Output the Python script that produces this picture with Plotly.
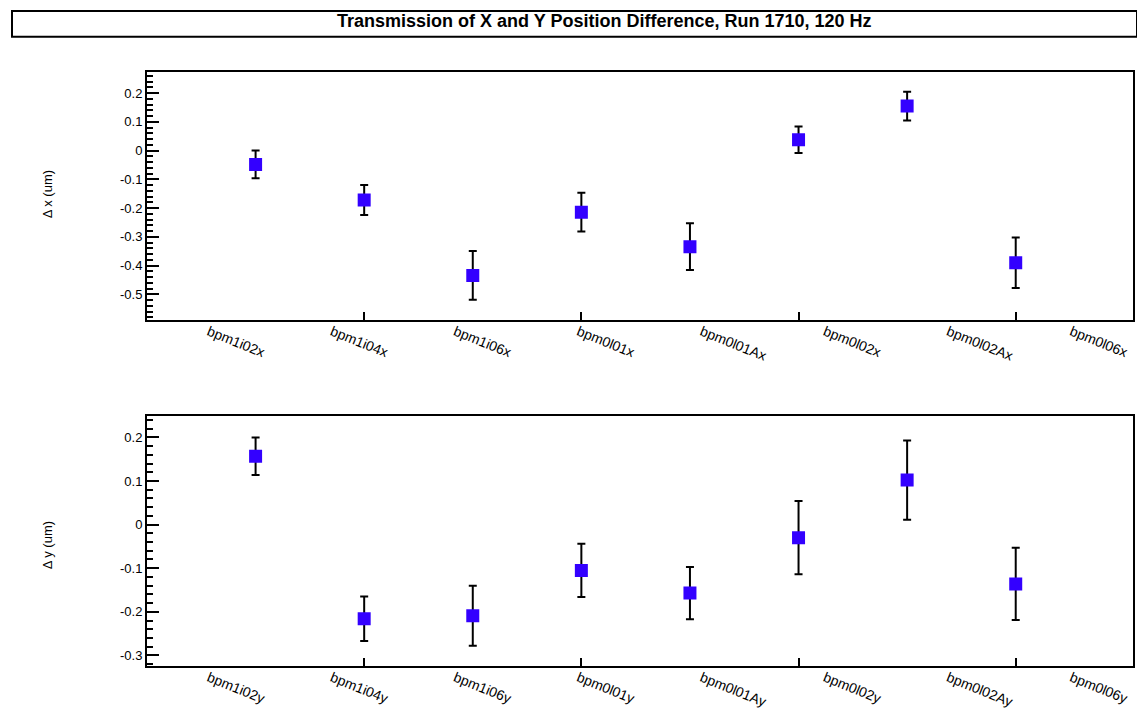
import plotly.graph_objects as go

# ---- data ----
x_labels = ["bpm1i02x", "bpm1i04x", "bpm1i06x", "bpm0l01x", "bpm0l01Ax", "bpm0l02x", "bpm0l02Ax", "bpm0l06x"]
y_labels = ["bpm1i02y", "bpm1i04y", "bpm1i06y", "bpm0l01y", "bpm0l01Ay", "bpm0l02y", "bpm0l02Ay", "bpm0l06y"]
point_index = [1, 2, 3, 4, 5, 6, 7, 8]
dx_values = [-0.048, -0.172, -0.434, -0.214, -0.334, 0.038, 0.155, -0.390]
dx_errors = [0.048, 0.052, 0.085, 0.067, 0.081, 0.046, 0.050, 0.088]
dy_values = [0.157, -0.216, -0.209, -0.105, -0.157, -0.030, 0.102, -0.136]
dy_errors = [0.043, 0.051, 0.069, 0.061, 0.060, 0.084, 0.091, 0.083]
label_pos = [0.5, 1.5, 2.5, 3.5, 4.5, 5.5, 6.5, 7.5]
top_ticks = [0.2, 0.1, 0, -0.1, -0.2, -0.3, -0.4, -0.5]
top_ticktext = ["0.2", "0.1", "0", "-0.1", "-0.2", "-0.3", "-0.4", "-0.5"]
bot_ticks = [0.2, 0.1, 0, -0.1, -0.2, -0.3]
bot_ticktext = ["0.2", "0.1", "0", "-0.1", "-0.2", "-0.3"]
title_text = "Transmission of X and Y Position Difference, Run 1710, 120 Hz"

W, H = 1137, 710
MARK = "#3300ff"
FONT = "Liberation Sans, Arial, sans-serif"

xdom = [147 / W, 1133 / W]
top_dom = [1 - 323 / H, 1 - 73 / H]
bot_dom = [1 - 672 / H, 1 - 420 / H]

fig = go.Figure()

def pts(xa, ya, vals, errs):
    return go.Scatter(
        x=point_index, y=vals, xaxis=xa, yaxis=ya, mode="markers",
        marker=dict(symbol="square", size=13, color=MARK, line=dict(width=0)),
        error_y=dict(type="data", array=errs, visible=True, color="black", thickness=2, width=4),
        showlegend=False, hoverinfo="skip",
    )

fig.add_trace(pts("x", "y", dx_values, dx_errors))
fig.add_trace(pts("x2", "y2", dy_values, dy_errors))
# invisible traces to keep label axes active
fig.add_trace(go.Scatter(x=[label_pos[0]], y=[0], xaxis="x3", yaxis="y", mode="markers",
                         marker=dict(opacity=0), showlegend=False, hoverinfo="skip"))
fig.add_trace(go.Scatter(x=[label_pos[0]], y=[0], xaxis="x4", yaxis="y2", mode="markers",
                         marker=dict(opacity=0), showlegend=False, hoverinfo="skip"))

def data_xaxis(anchor):
    return dict(domain=xdom, anchor=anchor, range=[0, 9.08], tickvals=[2, 4, 6, 8],
                showticklabels=False, ticks="inside", ticklen=8, tickwidth=2, tickcolor="black",
                showline=True, mirror=True, linewidth=2, linecolor="black",
                showgrid=False, zeroline=False)

def label_xaxis(over, anchor, labels):
    return dict(domain=xdom, anchor=anchor, overlaying=over, range=[0, 8], tickvals=label_pos,
                ticktext=labels, tickangle=22, ticks="", showline=False, showgrid=False,
                zeroline=False, side="bottom",
                tickfont=dict(family=FONT, size=14, color="black"))

def yaxis(dom, anchor, rng, tv, tt):
    return dict(domain=dom, anchor=anchor, range=rng, tickvals=tv, ticktext=tt,
                ticks="inside", ticklen=12, tickwidth=2, tickcolor="black",
                minor=dict(ticks="inside", ticklen=6, tickwidth=2, tickcolor="black", dtick=0.02, tick0=0),
                showline=True, mirror=True, linewidth=2, linecolor="black",
                showgrid=False, zeroline=False,
                tickfont=dict(family=FONT, size=13, color="black"))

fig.update_layout(
    width=W, height=H, margin=dict(l=0, r=0, t=0, b=0),
    paper_bgcolor="white", plot_bgcolor="white",
    xaxis=data_xaxis("y"),
    xaxis2=data_xaxis("y2"),
    xaxis3=label_xaxis("x", "y", x_labels),
    xaxis4=label_xaxis("x2", "y2", y_labels),
    yaxis=yaxis(top_dom, "x", [-0.59, 0.272], top_ticks, top_ticktext),
    yaxis2=yaxis(bot_dom, "x2", [-0.325, 0.248], bot_ticks, bot_ticktext),
    shapes=[dict(type="rect", xref="paper", yref="paper",
                 x0=12 / W, x1=1.0, y0=1 - 37 / H, y1=1 - 11 / H,
                 line=dict(color="black", width=2), fillcolor="rgba(0,0,0,0)")],
    annotations=[
        dict(text="<b>" + title_text + "</b>", xref="paper", yref="paper", x=604 / W, y=1 - 21 / H,
             xanchor="center", yanchor="middle", showarrow=False,
             font=dict(family=FONT, size=18, color="black")),
        dict(text="Δ x (um)", xref="paper", yref="paper", x=47 / W, y=1 - 196 / H,
             textangle=-90, xanchor="center", yanchor="middle", showarrow=False,
             font=dict(family=FONT, size=13, color="black")),
        dict(text="Δ y (um)", xref="paper", yref="paper", x=47 / W, y=1 - 550 / H,
             textangle=-90, xanchor="center", yanchor="middle", showarrow=False,
             font=dict(family=FONT, size=13, color="black")),
    ],
)

fig.write_html("out.html", config={"displayModeBar": False},
               post_script="document.body.style.margin='0';document.body.style.overflow='hidden';")
